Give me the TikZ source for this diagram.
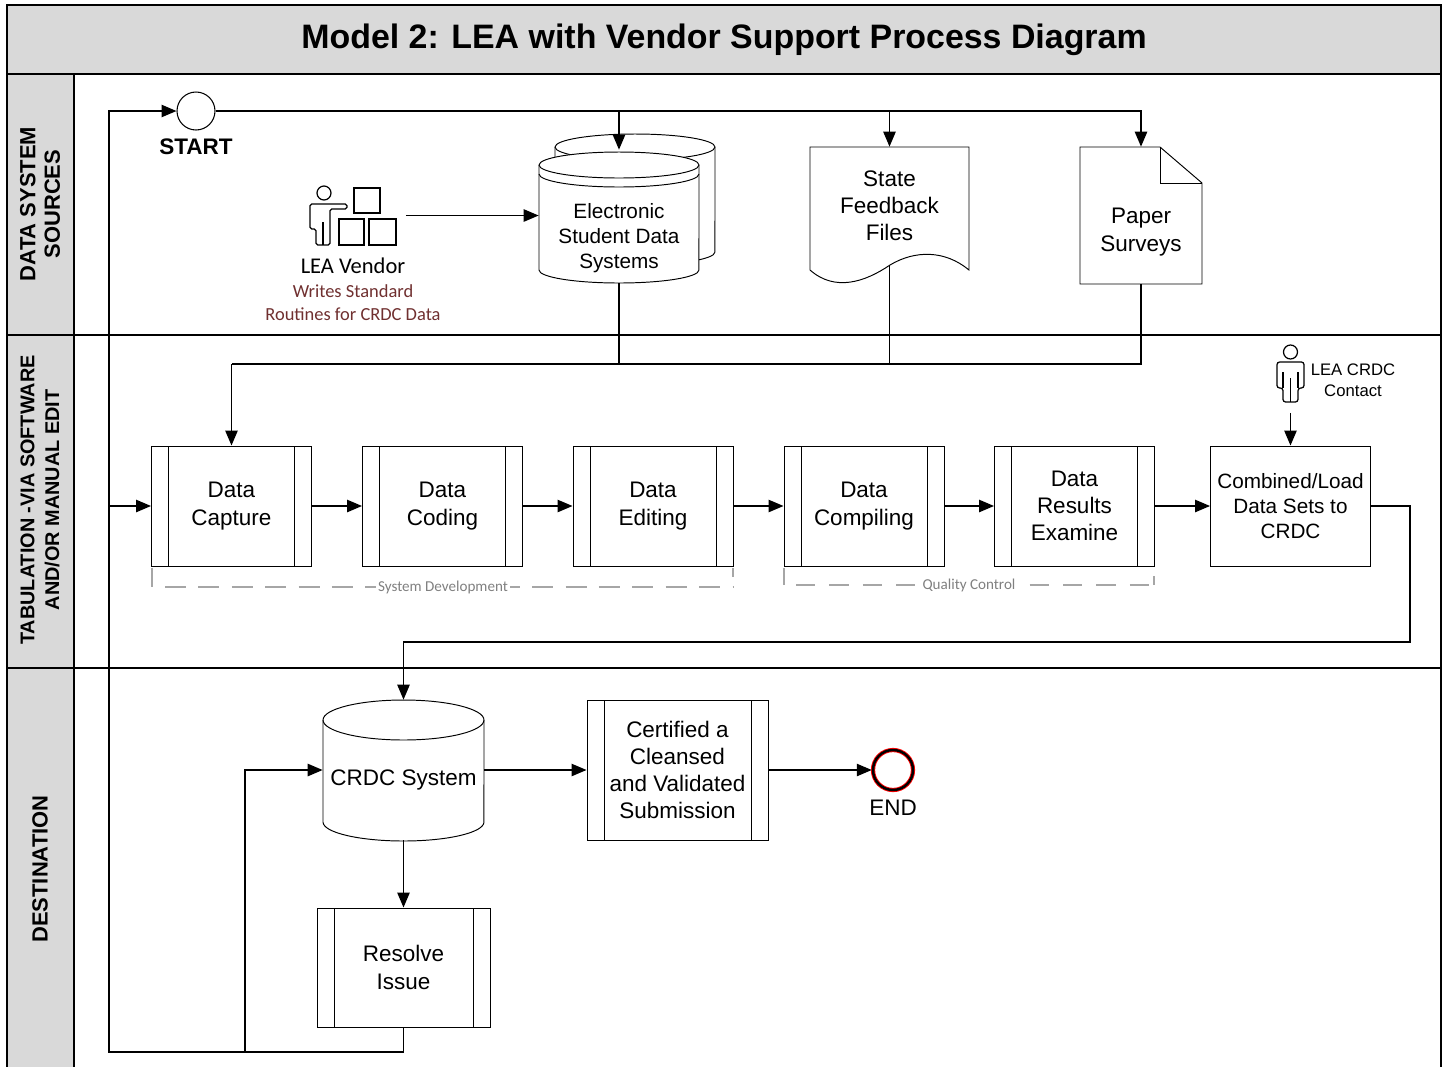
\documentclass[tikz,border=0pt]{standalone}
\usepackage{fontspec}
\setmainfont{Liberation Sans}
\newfontfamily\calib{Carlito}
\usepackage{xcolor}
\usetikzlibrary{arrows.meta,positioning}
\definecolor{lanegray}{RGB}{217,217,217}
\definecolor{notered}{RGB}{112,48,48}
\definecolor{notegray}{RGB}{128,128,128}

\begin{document}
\begin{tikzpicture}[
  x=0.02cm, y=-0.02cm,
  >={Triangle[length=8.5pt,width=7pt]},
  lane/.style={line width=1.1pt},
  flow/.style={line width=0.85pt},
  shp/.style={line width=0.55pt, fill=white},
  icon/.style={line width=0.7pt},
  txt/.style={align=center, font=\fontsize{12.8}{15.5}\selectfont},
  hold/.style={inner sep=0pt},
  sub/.style={draw, line width=0.55pt, align=center, font=\fontsize{12.8}{15.5}\selectfont,
    path picture={
      \draw[line width=0.55pt]
        ([xshift=0.34cm]path picture bounding box.north west) -- ([xshift=0.34cm]path picture bounding box.south west)
        ([xshift=-0.34cm]path picture bounding box.north east) -- ([xshift=-0.34cm]path picture bounding box.south east);}},
  subbox/.style={sub, minimum width=3.2cm, minimum height=2.4cm},
  task/.style={draw, line width=0.55pt, minimum width=3.2cm, minimum height=2.4cm,
    align=center, font=\fontsize{11.8}{14.3}\selectfont},
  lanelbl/.style={rotate=90, align=center, font=\bfseries\fontsize{12.5}{14}\selectfont},
  bracket/.style={notegray!70, line width=0.6pt},
  brlabel/.style={fill=white, inner sep=1pt, text=notegray, font=\calib\fontsize{8.6}{10}\selectfont}
]
\fill[white] (0,0) rectangle (1445,1066);
\useasboundingbox (0,0) rectangle (1445,1066);

\fill[lanegray] (7,5) rectangle (1441,74);
\fill[lanegray] (7,74) rectangle (74,1070);
\draw[lane] (7,1070) -- (7,5) -- (1441,5) -- (1441,1070);
\draw[lane] (7,74) -- (1441,74) (7,335) -- (1441,335) (7,668) -- (1441,668) (74,74) -- (74,1070);

\node[font=\bfseries\fontsize{19.3}{22}\selectfont] (title) at (724,40) {Model 2: LEA with Vendor Support Process Diagram};
\node[lanelbl] (lane1) at (40,204) {DATA SYSTEM\\SOURCES};
\node[lanelbl, font=\bfseries\fontsize{11.3}{14}\selectfont] (lane2) at (40,500) {TABULATION -VIA SOFTWARE\\AND/OR MANUAL EDIT};
\node[lanelbl] (lane3) at (40,869) {DESTINATION};

\draw[shp] (555,147) -- (555,252) arc[start angle=180,end angle=360,x radius=1.6cm,y radius=0.26cm]
  -- (715,147) arc[start angle=0,end angle=180,x radius=1.6cm,y radius=0.26cm] -- cycle;
\draw[line width=0.55pt] (555,147) arc[start angle=180,end angle=360,x radius=1.6cm,y radius=0.26cm];
\draw[shp] (539,165) -- (539,270) arc[start angle=180,end angle=360,x radius=1.6cm,y radius=0.26cm]
  -- (699,165) arc[start angle=0,end angle=180,x radius=1.6cm,y radius=0.26cm] -- cycle;
\draw[line width=0.55pt] (539,165) arc[start angle=180,end angle=360,x radius=1.6cm,y radius=0.26cm]
  (539,174) arc[start angle=180,end angle=360,x radius=1.6cm,y radius=0.26cm];

\draw[shp] (969,270) -- (969,147) -- (810,147) -- (810,270)
  .. controls (835,292) and (865,282) .. (890,265)
  .. controls (915,250) and (945,250) .. (969,270) -- cycle;

\draw[shp] (1080,147) -- (1160,147) -- (1202,183) -- (1202,284) -- (1080,284) -- cycle;
\draw[line width=0.55pt] (1160,147) |- (1202,183);

\draw[shp] (323,720) -- (323,822) arc[start angle=180,end angle=360,x radius=1.61cm,y radius=0.38cm]
  -- (484,720) arc[start angle=0,end angle=180,x radius=1.61cm,y radius=0.4cm] -- cycle;
\draw[line width=0.55pt] (323,720) arc[start angle=180,end angle=360,x radius=1.61cm,y radius=0.4cm];

\draw[icon] (324,193) circle (0.14cm);
\draw[icon, rounded corners=1pt] (316,245) -- (316,229) -- (310,229) -- (310,204) -- (347,204)
  -- (347,209) -- (330,209) -- (330,245) -- cycle;
\draw[icon] (323,245) -- (323,222);
\draw[icon] (354,188) rectangle (380,213) (339,219) rectangle (364,245) (369,219) rectangle (396,245);

\draw[icon] (1290.5,352) circle (0.14cm);
\draw[icon, rounded corners=1.5pt] (1283,402) -- (1283,388) -- (1277,388) -- (1277,362) -- (1304,362)
  -- (1304,388) -- (1298,388) -- (1298,402) -- cycle;
\draw[icon] (1283,372) -- (1283,388) (1298,372) -- (1298,388) (1290.5,378) -- (1290.5,402);

\node[hold, minimum width=2.1cm, minimum height=1.2cm] (vendor) at (353,215.5) {};
\node[font=\calib\fontsize{12.8}{15}\selectfont] (vendorlbl) at (353,266) {LEA Vendor};
\node[font=\calib\fontsize{10.5}{13}\selectfont, text=notered, align=center] (vendornote) at (353,302.5) {Writes Standard\\Routines for CRDC Data};

\node[hold, minimum width=3.2cm, minimum height=2.66cm] (esds) at (619,216.5) {};
\node[txt, font=\fontsize{11.8}{14.3}\selectfont] (esdstxt) at (619,238) {Electronic\\Student Data\\Systems};
\node[hold, txt, minimum width=3.18cm, minimum height=2.36cm] (state) at (889.5,206) {State\\Feedback\\Files};
\node[hold, minimum width=2.44cm, minimum height=2.74cm] (paper) at (1141,215.5) {};
\node[txt] (papertxt) at (1141,232) {Paper\\Surveys};

\node[circle, draw, line width=0.6pt, minimum size=0.76cm, inner sep=0pt] (start) at (196,111) {};
\node[font=\bfseries\fontsize{12.8}{15}\selectfont] (startlbl) at (196,147) {START};

\node[subbox] (capture) at (231.5,506) {Data\\Capture};
\node[subbox] (coding) at (442.5,506) {Data\\Coding};
\node[subbox] (editing) at (653,506) {Data\\Editing};
\node[subbox] (compiling) at (864,506) {Data\\Compiling};
\node[subbox] (examine) at (1074.5,506) {Data\\Results\\Examine};
\node[task] (combined) at (1290.5,506) {Combined/Load\\Data Sets to\\CRDC};
\node[hold, minimum width=0.7cm, minimum height=1.3cm] (contact) at (1290.5,380) {};
\node[font=\fontsize{9.5}{12}\selectfont, align=center] (contactlbl) at (1353,380) {LEA CRDC\\Contact};

\draw[bracket] (152,568) -- (152,587) (733,568) -- (733,577);
\draw[bracket, dash pattern=on 12pt off 7pt] (165,587) -- (733,587);
\node[brlabel] (sysdev) at (443,587) {System Development};
\draw[bracket] (784,568) -- (784,585) (1154,576) -- (1154,585);
\draw[bracket, dash pattern=on 11pt off 8pt] (796,585) -- (1154,585);
\node[brlabel] (qualctl) at (969,585) {Quality Control};

\node[hold, minimum width=3.22cm, minimum height=2.8cm] (crdc) at (403.5,770) {};
\node[txt] (crdctxt) at (403.5,780) {CRDC System};
\node[sub, minimum width=3.62cm, minimum height=2.8cm] (certified) at (677.5,770) {Certified a\\Cleansed\\and Validated\\Submission};
\node[circle, draw, line width=1.4pt, preaction={draw=red, line width=2.4pt}, minimum size=0.8cm, inner sep=0pt] (finish) at (893,770) {};
\node[txt] (finishlbl) at (893,808) {END};
\node[sub, minimum width=3.46cm, minimum height=2.38cm] (resolve) at (403.5,967.5) {Resolve\\Issue};

\coordinate (loop) at (109,1052);
\coordinate (fork) at (245,1052);
\coordinate (tap) at (109,506);
\coordinate (merge) at (231.5,364);
\coordinate (turn) at (1410,642);

\draw[flow,->] (resolve.south) |- (loop) |- (start.west);
\draw[flow,->] (fork) |- (crdc.west);
\draw[flow,->] (tap) -- (capture.west);
\draw[flow,->] (start.east) -| (esds.north);
\draw[flow,->] (start.east) -| (state.north);
\draw[flow,->] (start.east) -| (paper.north);
\draw[flow,->] (vendor.east) -- (vendor.east -| esds.west);
\draw[flow] (esds.south) |- (merge);
\draw[flow] (state.south) |- (merge);
\draw[flow] (paper.south) |- (merge);
\draw[flow,->] (merge) -- (capture.north);
\draw[flow,->] (capture) -- (coding);
\draw[flow,->] (coding) -- (editing);
\draw[flow,->] (editing) -- (compiling);
\draw[flow,->] (compiling) -- (examine);
\draw[flow,->] (examine) -- (combined);
\draw[flow,->] (contact) -- (combined);
\draw[flow,->] (combined.east) -| (turn) -| (crdc.north);
\draw[flow,->] (crdc) -- (certified);
\draw[flow,->] (certified) -- (finish);
\draw[flow,->] (crdc) -- (resolve);
\end{tikzpicture}
\end{document}
